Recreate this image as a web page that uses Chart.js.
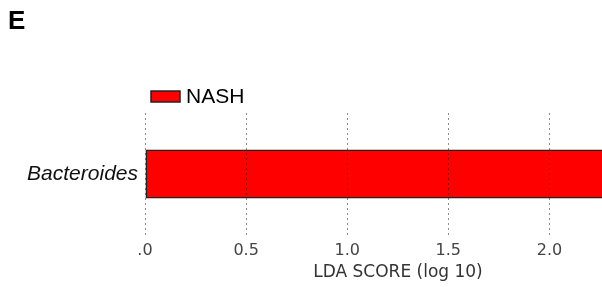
<!DOCTYPE html>
<html>
<head>
<meta charset="utf-8">
<script src="https://cdn.jsdelivr.net/npm/chart.js@4/dist/chart.umd.min.js"></script>
<style>
  html, body { margin: 0; padding: 0; background: #fff; }
  #wrap { width: 602px; height: 287px; }
</style>
</head>
<body>
<div id="wrap"><canvas id="ldaChart" width="602" height="287"></canvas></div>
<script>
// data
const categories = ['Bacteroides'];
const groupName = 'NASH';
const ldaScores = [2.4];
const tickValues = [0, 0.5, 1.0, 1.5, 2.0];
const tickLabels = ['.0', '0.5', '1.0', '1.5', '2.0'];
const axisTitle = 'LDA SCORE (log 10)';
const panelLetter = 'E';

// panel letter, legend and axis title drawn on top
const decorations = {
    id: 'decorations',
    afterDraw(chart) {
        const ctx = chart.ctx;
        const ds = chart.data.datasets[0];
        ctx.save();
        ctx.fillStyle = '#000';
        ctx.font = 'bold 26px "Liberation Sans", Arial, sans-serif';
        ctx.textBaseline = 'alphabetic';
        ctx.fillText(panelLetter, 8, 29);

        // legend
        ctx.fillStyle = ds.backgroundColor;
        ctx.fillRect(151, 91, 29, 11);
        ctx.strokeStyle = ds.borderColor;
        ctx.lineWidth = 1.5;
        ctx.strokeRect(151, 91, 29, 11);
        ctx.fillStyle = '#000';
        ctx.font = '21px "Liberation Sans", Arial, sans-serif';
        ctx.textBaseline = 'middle';
        ctx.fillText(ds.label, 186, 97);

        // x axis title
        ctx.fillStyle = '#333';
        ctx.font = '17px "DejaVu Sans", sans-serif';
        ctx.textAlign = 'center';
        ctx.fillText(axisTitle, 398, 273);
        ctx.restore();
    }
};

const ctx = document.getElementById('ldaChart').getContext('2d');
new Chart(ctx, {
    type: 'bar',
    data: {
        labels: categories,
        datasets: [{
            label: groupName,
            data: ldaScores,
            backgroundColor: '#ff0000',
            borderColor: '#222222',
            borderWidth: 1.5,
            borderSkipped: false,
            categoryPercentage: 1,
            barPercentage: 0.4
        }]
    },
    options: {
        indexAxis: 'y',
        responsive: false,
        animation: false,
        layout: { padding: { top: 113, left: 0, right: 0, bottom: 0 } },
        plugins: {
            legend: { display: false },
            title: { display: false },
            tooltip: { enabled: false }
        },
        scales: {
            x: {
                min: 0,
                max: 2.26,
                z: 1,
                border: { display: false, dash: [2, 3] },
                grid: {
                    color: 'rgba(0, 0, 0, 0.45)',
                    lineWidth: 1,
                    drawTicks: false,
                    z: 1
                },
                ticks: {
                    padding: 6,
                    color: '#444',
                    font: { family: '"DejaVu Sans", sans-serif', size: 16 },
                    callback: (value, index) => tickLabels[index]
                },
                afterBuildTicks: scale => {
                    scale.ticks = tickValues.map(v => ({ value: v }));
                },
                afterFit: scale => { scale.height = 52; }
            },
            y: {
                border: { display: false },
                grid: { display: false, drawTicks: false },
                ticks: {
                    padding: 7,
                    color: '#111',
                    font: { family: '"Liberation Sans", Arial, sans-serif', size: 21, style: 'italic' }
                },
                afterFit: scale => { scale.width = 145; }
            }
        }
    },
    plugins: [decorations]
});
</script>
</body>
</html>
